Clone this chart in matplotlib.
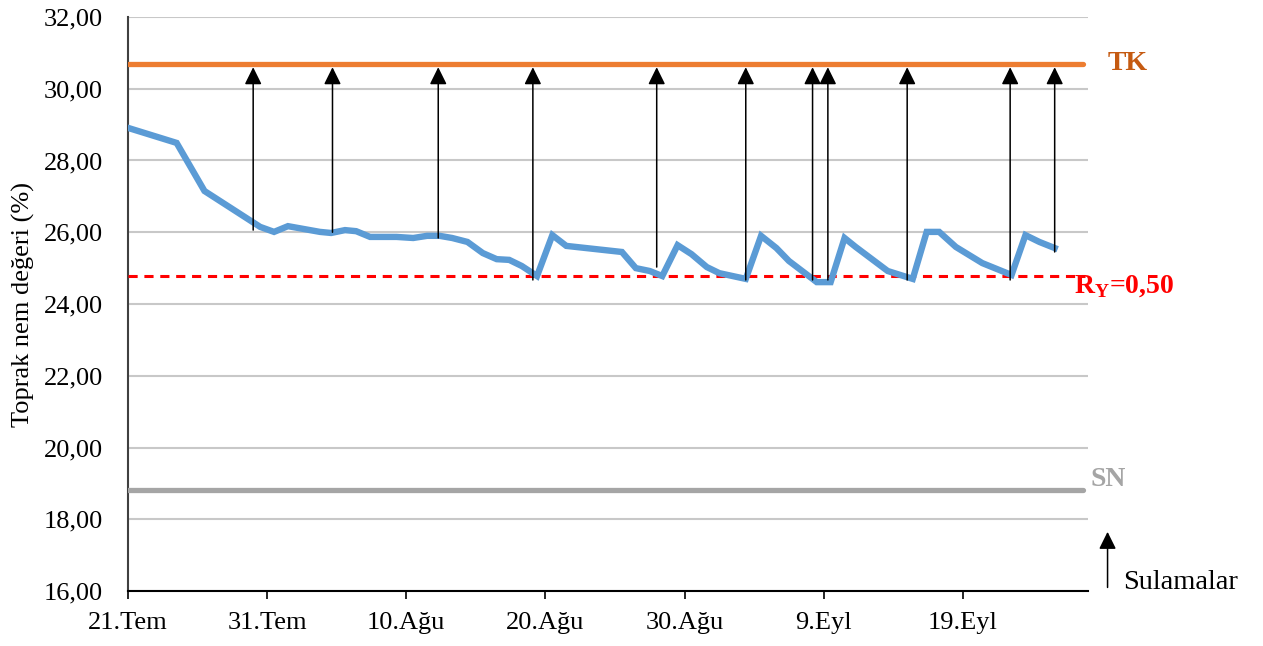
import matplotlib.pyplot as plt
import numpy as np

plt.rcParams['font.family'] = ['Liberation Serif', 'DejaVu Serif']
plt.rcParams['mathtext.fontset'] = 'custom'
plt.rcParams['mathtext.rm'] = 'Liberation Serif'
plt.rcParams['mathtext.bf'] = 'Liberation Serif:bold'

# days after 21 July
day = [0, 3.5, 5.5, 9.5, 10.5, 11.5, 13.8, 14.6, 15.6, 16.4, 17.4, 19.3, 20.5, 21.5, 22.4,
       23.3, 24.4, 25.5, 26.5, 27.4, 28.3, 29.4, 30.5, 31.5, 35.5, 36.5, 37.5, 38.4, 39.5,
       40.5, 41.6, 42.5, 44.4, 45.5, 46.6, 47.5, 49.2, 49.5, 50.5, 51.5, 52.3, 54.6, 56.4,
       57.4, 58.3, 59.5, 61.4, 63.5, 64.5, 65.5, 66.6]
nem = [28.91, 28.49, 27.15, 26.15, 26.01, 26.17, 26.01, 25.98, 26.06, 26.03, 25.87, 25.87,
       25.84, 25.90, 25.90, 25.84, 25.73, 25.42, 25.25, 25.23, 25.06, 24.78, 25.92, 25.62,
       25.45, 25.00, 24.92, 24.78, 25.64, 25.39, 25.03, 24.86, 24.70, 25.90, 25.56, 25.20,
       24.70, 24.61, 24.61, 25.84, 25.59, 24.92, 24.70, 26.01, 26.01, 25.59, 25.14, 24.81,
       25.92, 25.73, 25.56]

TK = 30.70
RY = 24.78
SN = 18.82

# irrigation days and moisture at the arrow foot
sul_gun = [9.0, 14.7, 22.3, 29.1, 38.0, 44.4, 49.2, 50.3, 56.0, 63.4, 66.6]
sul_nem = [26.06, 26.00, 25.84, 24.67, 25.03, 24.67, 24.67, 24.67, 24.67, 24.67, 25.45]

tick_gun = [0, 10, 20, 30, 40, 50, 60]
tick_lbl = ['21.Tem', '31.Tem', '10.Ağu', '20.Ağu', '30.Ağu', '9.Eyl', '19.Eyl']
yticks = np.arange(16, 33, 2)

fig = plt.figure(figsize=(12.63, 6.46), dpi=100)
ax = fig.add_axes([0.1013, 0.0851, 0.7602, 0.8886])

ax.set_xlim(0, 69)
ax.set_ylim(16, 32)
ax.set_yticks(yticks)
ax.set_yticklabels([('%.2f' % v).replace('.', ',') for v in yticks], fontsize=19)
ax.set_xticks(tick_gun)
ax.set_xticklabels(tick_lbl, fontsize=19)
ax.tick_params(axis='y', length=0, pad=18)
ax.tick_params(axis='x', length=6, width=1.2, direction='out', pad=9)
ax.grid(axis='y', color='#C8C8C8', lw=1.5)
ax.set_axisbelow(True)
for s in ['top', 'right']:
    ax.spines[s].set_visible(False)
ax.spines['left'].set_color('#404040')
ax.spines['left'].set_linewidth(1.5)
ax.spines['bottom'].set_linewidth(1.5)

ax.plot([0, 68.6], [TK, TK], color='#ED7D31', lw=3.8, solid_capstyle='round', zorder=3)
ax.plot([0, 68.6], [SN, SN], color='#A5A5A5', lw=3.8, solid_capstyle='round', zorder=3)
ax.plot([0, 68.8], [RY, RY], color='#FF0000', lw=2.2, ls=(0, (3, 2.2)), zorder=4)
ax.plot(day, nem, color='#5B9BD5', lw=4.6, solid_joinstyle='miter', zorder=5)

ok = '-|>,head_length=1.05,head_width=0.52'
for g, n in zip(sul_gun, sul_nem):
    ax.annotate('', xy=(g, TK - 0.1), xytext=(g, n),
                arrowprops=dict(arrowstyle=ok, color='black', lw=1.1,
                                shrinkA=0, shrinkB=0), zorder=6)

ax.text(70.4, TK, 'TK', color='#C55A11', fontsize=20, fontweight='bold', va='center')
ax.text(68.0, RY - 0.3, r'R$_\mathbf{Y}$=0,50', color='#FF0000', fontsize=20,
        fontweight='bold', va='center')
ax.text(69.2, SN + 0.3, 'SN', color='#A5A5A5', fontsize=20, fontweight='bold', va='center')

ax.annotate('', xy=(70.4, 17.65), xytext=(70.4, 16.1),
            arrowprops=dict(arrowstyle=ok, color='black', lw=1.1,
                            shrinkA=0, shrinkB=0),
            annotation_clip=False)
ax.text(71.5, 16.25, 'Sulamalar', fontsize=20.5, va='center')

ax.set_ylabel('Toprak nem değeri (%)', fontsize=19, labelpad=6)

fig.savefig('out.png', dpi=100)
